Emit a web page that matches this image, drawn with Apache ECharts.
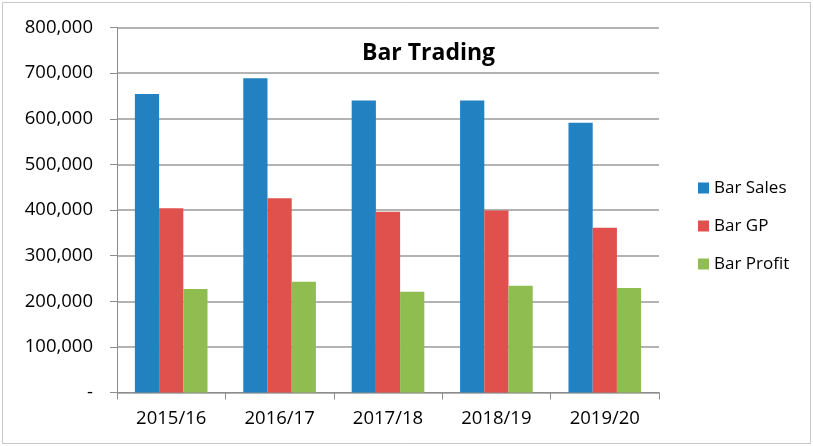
<!DOCTYPE html>
<html>
<head>
<meta charset="utf-8">
<script src="https://cdn.jsdelivr.net/npm/echarts@6/dist/echarts.min.js"></script>
<style>
html,body{margin:0;padding:0;background:#fff;}
#chart{width:813px;height:446px;}
</style>
</head>
<body>
<div id="chart"></div>
<script>
const categories = ['2015/16', '2016/17', '2017/18', '2018/19', '2019/20'];
const barSales = [654000, 689000, 640000, 640000, 591000];
const barGP = [404000, 426000, 396000, 399000, 361000];
const barProfit = [227000, 243000, 221000, 234000, 229000];
const yTicks = [0, 100000, 200000, 300000, 400000, 500000, 600000, 700000, 800000];

const FONT = '"Open Sans", "Liberation Sans", sans-serif';
const chart = echarts.init(document.getElementById('chart'), null, {renderer: 'canvas'});

function fmt(v) {
  if (v === 0) return '-';
  return v.toLocaleString('en-US');
}

chart.setOption({
  animation: false,
  backgroundColor: '#fff',
  title: {
    text: 'Bar Trading',
    left: 357,
    top: 37,
    textStyle: {fontFamily: FONT, fontSize: 23, fontWeight: 'bold', color: '#000'}
  },
  graphic: [{
    type: 'rect',
    shape: {x: 2.5, y: 2.5, width: 808, height: 441},
    style: {fill: 'none', stroke: '#c8c8c8', lineWidth: 1},
    silent: true
  }],
  legend: {
    orient: 'vertical',
    left: 693,
    top: 174,
    itemWidth: 11,
    itemHeight: 11,
    itemGap: 20,
    icon: 'rect',
    textStyle: {fontFamily: FONT, fontSize: 17, color: '#000', lineHeight: 18},
    data: ['Bar Sales', 'Bar GP', 'Bar Profit']
  },
  grid: {left: 117, right: 154, top: 27.5, bottom: 53.5, containLabel: false},
  xAxis: {
    type: 'category',
    data: categories,
    boundaryGap: true,
    axisLine: {show: true, lineStyle: {color: '#8c8c8c', width: 1}},
    axisTick: {show: true, length: 7, lineStyle: {color: '#8c8c8c'}},
    axisLabel: {fontFamily: FONT, fontSize: 18.5, color: '#000', margin: 17}
  },
  yAxis: {
    type: 'value',
    min: yTicks[0],
    max: yTicks[yTicks.length - 1],
    interval: 100000,
    axisLine: {show: true, lineStyle: {color: '#8c8c8c', width: 1}},
    axisTick: {show: true, length: 7, lineStyle: {color: '#8c8c8c'}},
    splitLine: {show: true, lineStyle: {color: '#9a9a9a', width: 1.5}},
    axisLabel: {fontFamily: FONT, fontSize: 18.5, color: '#000', margin: 24, formatter: fmt}
  },
  series: [
    {name: 'Bar Sales', type: 'bar', data: barSales, barGap: '0%', barCategoryGap: '33%',
     itemStyle: {color: '#2181c1'}},
    {name: 'Bar GP', type: 'bar', data: barGP, barGap: '0%', barCategoryGap: '33%',
     itemStyle: {color: '#e0504c'}},
    {name: 'Bar Profit', type: 'bar', data: barProfit, barGap: '0%', barCategoryGap: '33%',
     itemStyle: {color: '#8fbd4f'}}
  ]
});
</script>
</body>
</html>
